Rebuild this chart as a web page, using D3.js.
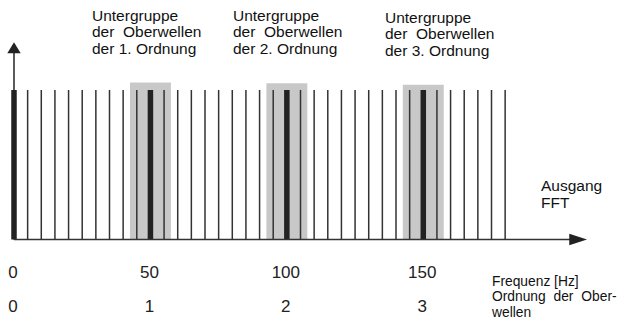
<!DOCTYPE html>
<html><head><meta charset="utf-8">
<script src="https://cdn.jsdelivr.net/npm/d3@7"></script>
<style>
html,body{margin:0;padding:0;background:#fff;}
svg{display:block;font-family:"Liberation Sans",Arial,Helvetica,sans-serif;}
</style></head>
<body>
<svg id="c" width="637" height="323"></svg>
<script>
// FFT output bins (5 Hz spacing) and their relative amplitudes
const binFreqs = [0,5,10,15,20,25,30,35,40,45,50,55,60,65,70,75,80,85,90,95,100,105,110,115,120,125,130,135,140,145,150,155,160,165,170,175,180];
const binAmps  = [1,1,1,1,1,1,1,1,1,1,1,1,1,1,1,1,1,1,1,1,1,1,1,1,1,1,1,1,1,1,1,1,1,1,1,1,1];
// harmonic frequencies (main bins, drawn thick)
const harmonicFreqs = [0,50,100,150];
// harmonic subgroups (centre frequency, half-width in Hz, box height)
const subgroupCenters = [50,100,150];
const subgroupHalfWidth = [7.5,7.5,7.5];
const subgroupTops = [1.05,1.045,1.035];
const subgroupLabels = [
  ["Untergruppe","der  Oberwellen","der 1. Ordnung"],
  ["Untergruppe","der  Oberwellen","der 2. Ordnung"],
  ["Untergruppe","der  Oberwellen","der 3. Ordnung"]
];
// tick labels
const freqTicks = [0,50,100,150];
const freqTickLabels = ["0","50","100","150"];
const orderTickLabels = ["0","1","2","3"];
const freqAxisTitle = ["Frequenz [Hz]"];
const orderAxisTitle = ["Ordnung der Ober-","wellen"];
const seriesLabel = ["Ausgang","FFT"];

const svg = d3.select("#c");
const x = d3.scaleLinear().domain([0,210]).range([14,587]);
const y = d3.scaleLinear().domain([0,1]).range([239.5,90]);
const axisCol = "#333";

// subgroup boxes
svg.selectAll("rect.sg").data(subgroupCenters).join("rect")
  .attr("class","sg")
  .attr("x",(d,i)=>x(d-subgroupHalfWidth[i]))
  .attr("width",(d,i)=>x(d+subgroupHalfWidth[i])-x(d-subgroupHalfWidth[i]))
  .attr("y",(d,i)=>y(subgroupTops[i]))
  .attr("height",(d,i)=>y(0)-y(subgroupTops[i]))
  .attr("fill","#c8c8c8");

// y axis line + arrow
svg.append("line").attr("x1",x(0)).attr("x2",x(0)).attr("y1",y(0)).attr("y2",y(1.27))
  .attr("stroke",axisCol).attr("stroke-width",1.6);
svg.append("path").attr("d",`M${x(0)-6.7},${y(1.245)} L${x(0)+6.7},${y(1.245)} L${x(0)},${y(1.32)} Z`).attr("fill","#222");

// bins
const isH = f => harmonicFreqs.includes(f);
svg.selectAll("line.bin").data(binFreqs).join("line")
  .attr("class","bin")
  .attr("x1",d=>x(d)).attr("x2",d=>x(d))
  .attr("y1",y(0)).attr("y2",(d,i)=>y(binAmps[i]))
  .attr("stroke",d=>isH(d)?"#222":"#333")
  .attr("stroke-width",d=>isH(d)?5.5:1.5);

// x axis line + arrow
svg.append("line").attr("x1",x(0)).attr("x2",x(205)).attr("y1",y(0)).attr("y2",y(0))
  .attr("stroke",axisCol).attr("stroke-width",1.6);
svg.append("path").attr("d",`M${x(203.5)},${y(0)-5.8} L${x(203.5)},${y(0)+5.8} L${x(210)},${y(0)} Z`).attr("fill","#222");

// subgroup labels
const labX = [92,233,385];
const labY = [20.7,20.7,23];
subgroupLabels.forEach((lines,i)=>{
  const t = svg.append("text").attr("x",labX[i]).attr("y",labY[i])
    .attr("font-size",15.5).attr("fill","#111").style("white-space","pre");
  lines.forEach((s,j)=>t.append("tspan").attr("x",labX[i]).attr("dy",j?16.4:0).text(s));
});

// series label
const sl = svg.append("text").attr("x",541).attr("y",190.5).attr("font-size",15.5).attr("fill","#111");
seriesLabel.forEach((s,j)=>sl.append("tspan").attr("x",541).attr("dy",j?17.5:0).text(s));

// tick labels
svg.selectAll("text.ft").data(freqTicks).join("text").attr("class","ft")
  .attr("x",d=>x(d)-1).attr("y",278).attr("text-anchor","middle")
  .attr("font-size",17).attr("fill","#222").text((d,i)=>freqTickLabels[i]);
svg.selectAll("text.ot").data(freqTicks).join("text").attr("class","ot")
  .attr("x",d=>x(d)-1).attr("y",311.5).attr("text-anchor","middle")
  .attr("font-size",17).attr("fill","#222").text((d,i)=>orderTickLabels[i]);

// axis titles
svg.append("text").attr("x",492).attr("y",285.5).attr("font-size",13.8).attr("fill","#111").text(freqAxisTitle[0]);
svg.append("text").attr("x",492).attr("y",301.3).attr("font-size",13.8).attr("fill","#111")
  .style("word-spacing","4px").text(orderAxisTitle[0]);
svg.append("text").attr("x",492).attr("y",317.2).attr("font-size",13.8).attr("fill","#111").text(orderAxisTitle[1]);
</script>
</body></html>
